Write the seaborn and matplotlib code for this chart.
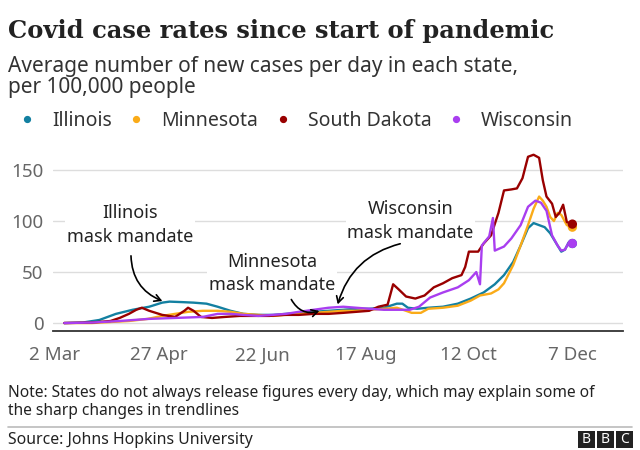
import pandas as pd
import numpy as np
import matplotlib.pyplot as plt
import seaborn as sns
from matplotlib.lines import Line2D
from matplotlib.patches import Rectangle

start = pd.Timestamp('2020-03-02')

states = ['Illinois', 'Minnesota', 'South Dakota', 'Wisconsin']
colours = ['#1380A1', '#FAAB18', '#990000', '#A93EF0']

# days since 2 Mar and average new cases per 100,000
il_days = [5, 15, 24, 33, 42, 51, 58, 62, 69, 75, 82, 88, 95, 102, 110, 118, 125, 132, 140, 148,
           156, 163, 170, 178, 185, 188, 191, 196, 202, 210, 218, 225, 232, 238, 243, 248, 252,
           256, 259, 262, 265, 268, 271, 274, 276, 278, 280]
il_vals = [0, 0.5, 3, 9, 13, 16, 20, 21, 20.5, 20, 19, 16, 12, 9, 8, 8, 9, 10, 11, 12,
           13, 14, 14, 15, 19, 19, 15, 14, 15, 16, 19, 24, 30, 38, 47, 60, 76,
           93, 98, 96, 94, 88, 79, 70, 72, 79, 78]

mn_days = [5, 20, 30, 40, 50, 58, 65, 72, 80, 88, 95, 102, 110, 118, 125, 132, 140, 148, 156, 163,
           170, 178, 185, 190, 193, 198, 202, 210, 218, 225, 230, 236, 240, 243, 248, 252, 256,
           259, 262, 264, 266, 268, 270, 272, 274, 277, 280]
mn_vals = [0, 0, 1, 2, 4, 7, 9, 11, 12, 12, 11, 9, 8, 7, 8, 9, 10, 11, 12, 12,
           13, 14, 15, 12, 10, 10, 14, 15, 17, 22, 27, 29, 33, 39, 57, 76, 96,
           112, 124, 120, 114, 104, 100, 108, 106, 96, 94]

sd_days = [5, 20, 30, 35, 40, 44, 47, 51, 58, 65, 70, 72, 75, 79, 85, 92, 100, 108, 116, 124,
           132, 140, 148, 156, 163, 170, 175, 180, 183, 186, 190, 195, 200, 205, 210, 215, 220,
           222, 224, 229, 232, 236, 240, 243, 247, 250, 253, 256, 259, 262, 264, 266, 269, 271,
           273, 275, 277, 280]
sd_vals = [0, 0.5, 2, 5, 9, 13, 15, 12, 8, 6, 12, 15, 12, 6, 5, 6, 7, 7, 7, 8,
           8, 9, 9, 10, 11, 12, 16, 18, 38, 33, 26, 24, 27, 35, 39, 44, 47,
           55, 70, 70, 78, 86, 108, 130, 131, 132, 142, 163, 165, 162, 140, 124, 117, 104,
           108, 116, 99, 97]

wi_days = [5, 20, 35, 50, 65, 80, 88, 95, 102, 110, 118, 125, 132, 140, 148, 156, 163, 170, 178, 185,
           192, 197, 203, 210, 218, 224, 228, 230, 231, 235, 237, 238, 243, 247, 252, 256, 260,
           263, 266, 269, 272, 274, 276, 278, 280]
wi_vals = [0, 0.5, 2, 4, 5, 6, 9, 9, 8, 7, 8, 9, 11, 13, 15, 16, 15, 14, 13, 13,
           13, 16, 25, 30, 35, 42, 50, 38, 76, 85, 103, 71, 75, 83, 96, 114, 120,
           118, 110, 86, 76, 71, 72, 79, 78]

tick_days = [0, 56, 112, 168, 224, 280]
tick_labels = ['2 Mar', '27 Apr', '22 Jun', '17 Aug', '12 Oct', '7 Dec']
y_ticks = [0, 50, 100, 150]

frames = []
for name, d, v in zip(states, [il_days, mn_days, sd_days, wi_days], [il_vals, mn_vals, sd_vals, wi_vals]):
    frames.append(pd.DataFrame({'date': start + pd.to_timedelta(d, unit='D'), 'cases': v, 'state': name}))
df = pd.concat(frames, ignore_index=True)
last = df.groupby('state', sort=False).tail(1)

sns.set_style('white')
plt.rcParams['font.family'] = ['Noto Sans', 'DejaVu Sans']

fig = plt.figure(figsize=(6.4, 4.5), dpi=100)
ax = fig.add_axes([53 / 640, 1 - 331 / 450, 570 / 640, (331 - 147.6) / 450])

pal = dict(zip(states, colours))
sns.lineplot(data=df, x='date', y='cases', hue='state', palette=pal, linewidth=1.7,
             legend=False, estimator=None, sort=False, ax=ax, zorder=3)
sns.scatterplot(data=last, x='date', y='cases', hue='state', palette=pal, s=45,
                edgecolor='none', legend=False, ax=ax, zorder=4)

ax.set_ylim(-7.8, 172)
ax.set_xlim(start - pd.Timedelta(days=1.08), start + pd.Timedelta(days=307.4))
ax.set_yticks(y_ticks)
ax.set_xticks([start + pd.Timedelta(days=d) for d in tick_days])
ax.set_xticklabels(tick_labels)
ax.set_xlabel('')
ax.set_ylabel('')
ax.grid(axis='y', color='#dddddd', linewidth=1, zorder=0)
ax.grid(axis='x', visible=False)
for s in ['top', 'right', 'left']:
    ax.spines[s].set_visible(False)
ax.spines['bottom'].set_color('#333333')
ax.spines['bottom'].set_linewidth(1.3)
ax.tick_params(axis='x', length=5, width=1, color='#333333', labelsize=13.5, labelcolor='#666666', pad=6)
ax.tick_params(axis='y', length=0, labelsize=13.5, labelcolor='#666666', pad=7)

# annotations
def day(d):
    return start + pd.Timedelta(days=d)

txt_kw = dict(ha='center', va='center', fontsize=13, color='#222222', linespacing=1.4,
              bbox=dict(facecolor='white', edgecolor='none', pad=1), zorder=2)
ax.text(day(40.6), 96, 'Illinois\nmask mandate', **txt_kw)
ax.text(day(117.4), 48.5, 'Minnesota\nmask mandate', **txt_kw)
ax.text(day(192.4), 100, 'Wisconsin\nmask mandate', **txt_kw)

arr = dict(arrowstyle='->,head_length=0.45,head_width=0.25', color='black', lw=1.2)
ax.annotate('', xy=(day(59.5), 20.6), xytext=(day(41.1), 68.6),
            arrowprops=dict(connectionstyle='arc3,rad=0.35', **arr), zorder=5)
ax.annotate('', xy=(day(144.5), 12.7), xytext=(day(127.2), 25.5),
            arrowprops=dict(connectionstyle='arc3,rad=0.45', **arr), zorder=5)
ax.annotate('', xy=(day(152.6), 15.7), xytext=(day(188.3), 78.4),
            arrowprops=dict(connectionstyle='arc3,rad=0.3', **arr), zorder=5)

# titles
fig.text(8 / 640, 1 - 38 / 450, 'Covid case rates since start of pandemic', fontsize=17.4,
         fontweight='bold', family='DejaVu Serif', color='#222222', va='baseline')
fig.text(8 / 640, 1 - 72 / 450, 'Average number of new cases per day in each state,',
         fontsize=15, color='#333333', va='baseline')
fig.text(8 / 640, 1 - 93 / 450, 'per 100,000 people', fontsize=15, color='#333333', va='baseline')

handles = [Line2D([], [], marker='o', ls='', color=c, markersize=4.2) for c in colours]
fig.legend(handles, states, loc='center left', bbox_to_anchor=(21 / 640, 1 - 121 / 450), ncol=4,
           frameon=False, fontsize=14, handlelength=0.6, handletextpad=1.0, columnspacing=0.95,
           borderpad=0, borderaxespad=0, labelcolor='#333333')

# footer
fig.text(8 / 640, 1 - 393 / 450, 'Note: States do not always release figures every day, which may explain some of',
         fontsize=11.2, color='#222222', va='center')
fig.text(8 / 640, 1 - 411 / 450, 'the sharp changes in trendlines', fontsize=11.2, color='#222222', va='center')
fig.add_artist(Line2D([8 / 640, 632 / 640], [1 - 427 / 450] * 2, color='#bbbbbb', lw=1.2))
fig.text(8 / 640, 1 - 440 / 450, 'Source: Johns Hopkins University', fontsize=11.4, color='#222222', va='center')
for i, letter in enumerate('BBC'):
    x0 = 578 + i * 19
    fig.add_artist(Rectangle((x0 / 640, 1 - 448 / 450), 17 / 640, 17 / 450, facecolor='#222222',
                             edgecolor='none', transform=fig.transFigure))
    fig.text((x0 + 8.5) / 640, 1 - 439.5 / 450, letter, color='white', fontsize=10,
             fontweight='bold', ha='center', va='center')

fig.savefig('out.png', dpi=100)
